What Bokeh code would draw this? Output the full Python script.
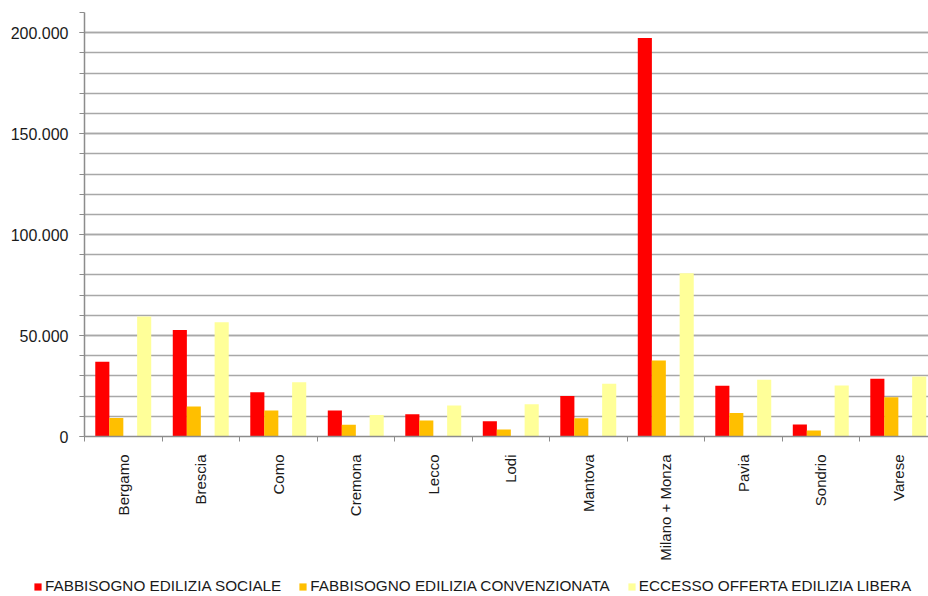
import math
from bokeh.plotting import figure
from bokeh.layouts import column, row
from bokeh.models import FixedTicker, Range1d, Legend, LegendItem
from bokeh.embed import file_html
from bokeh.resources import INLINE

provinces = ["Bergamo", "Brescia", "Como", "Cremona", "Lecco", "Lodi", "Mantova",
             "Milano + Monza", "Pavia", "Sondrio", "Varese"]
sociale = [37000, 52800, 21900, 12900, 11000, 7600, 20100, 197400, 25100, 5900, 28600]
convenzionata = [9200, 14900, 12900, 5800, 7900, 3500, 9100, 37600, 11600, 3000, 19500]
libera = [59400, 56600, 26900, 10700, 15300, 16000, 26100, 80900, 28100, 25200, 29700]
series_names = ["FABBISOGNO EDILIZIA SOCIALE", "FABBISOGNO EDILIZIA CONVENZIONATA",
                "ECCESSO OFFERTA EDILIZIA LIBERA"]
series_colors = ["#FF0000", "#FFBF00", "#FFFF99"]
y_ticks = [0, 50000, 100000, 150000, 200000]
y_tick_labels = ["0", "50.000", "100.000", "150.000", "200.000"]
y_minor = list(range(0, 210001, 10000))

FONT = "Liberation Sans"
idx = list(range(len(provinces)))

p = figure(width=928, height=572, output_backend="svg", toolbar_location=None,
           x_range=Range1d(-0.5, 10.39), y_range=Range1d(0, 210000),
           min_border_left=84, min_border_right=0, min_border_top=12,
           min_border_bottom=136)
p.outline_line_color = None
p.background_fill_color = "white"
p.border_fill_color = "white"

offsets = [-0.27, -0.09, 0.27]
for vals, off, col in zip([sociale, convenzionata, libera], offsets, series_colors):
    p.vbar(x=[i + off for i in idx], top=vals, width=0.182, bottom=0,
           fill_color=col, line_color=None)

# x axis
p.xaxis.ticker = FixedTicker(ticks=idx, minor_ticks=[i - 0.5 for i in range(len(provinces) + 1)])
p.xaxis.major_label_overrides = {i: n for i, n in zip(idx, provinces)}
p.xaxis.major_label_orientation = math.pi / 2
p.xaxis.major_tick_out = 0
p.xaxis.major_tick_in = 0
p.xaxis.minor_tick_out = 5
p.xaxis.minor_tick_in = 0
p.xaxis.major_label_standoff = 13
p.xaxis.axis_line_color = "#8c8c8c"
p.xaxis.axis_line_width = 1.5
p.xaxis.minor_tick_line_color = "#8c8c8c"
p.xaxis.major_label_text_font = FONT
p.xaxis.major_label_text_font_size = "15px"
p.xaxis.major_label_text_color = "#1a1a1a"

# y axis
p.yaxis.ticker = FixedTicker(ticks=y_ticks, minor_ticks=y_minor)
p.yaxis.major_label_overrides = {t: l for t, l in zip(y_ticks, y_tick_labels)}
p.yaxis.major_tick_out = 5
p.yaxis.major_tick_in = 0
p.yaxis.minor_tick_out = 5
p.yaxis.minor_tick_in = 0
p.yaxis.major_label_standoff = 11
p.yaxis.axis_line_color = "#8c8c8c"
p.yaxis.axis_line_width = 1.5
p.yaxis.major_tick_line_color = "#8c8c8c"
p.yaxis.minor_tick_line_color = "#8c8c8c"
p.yaxis.major_label_text_font = FONT
p.yaxis.major_label_text_font_size = "16px"
p.yaxis.major_label_text_color = "#1a1a1a"

p.xgrid.grid_line_color = None
p.ygrid.grid_line_color = "#a8a8a8"
p.ygrid.grid_line_width = 1.5
p.ygrid.minor_grid_line_color = "#a8a8a8"
p.ygrid.minor_grid_line_width = 1.5

# legend strip
lf = figure(width=928, height=24, output_backend="svg", toolbar_location=None,
            x_range=Range1d(0, 1), y_range=Range1d(0, 1),
            x_axis_location=None, y_axis_location=None,
            min_border=0, min_border_left=0, min_border_right=0,
            min_border_top=0, min_border_bottom=0)
lf.outline_line_color = None
lf.xgrid.visible = False
lf.ygrid.visible = False
leg_renderers = [lf.vbar(x=[0.5], top=[0], bottom=[0], width=0.01, fill_color=c, line_color=None)
                 for c in series_colors]
items = [LegendItem(label=n, renderers=[r]) for n, r in zip(series_names, leg_renderers)]
legend = Legend(items=items, orientation="horizontal", location=(33, 0),
                glyph_width=9, glyph_height=9, label_standoff=3, spacing=17,
                padding=0, margin=0, border_line_color=None,
                background_fill_alpha=0, label_text_font=FONT,
                label_text_font_size="15.3px", label_text_color="#1a1a1a",
                label_height=20)
lf.add_layout(legend, "center")

layout = column(p, row(lf), spacing=0)
open("out.html", "w").write(file_html(layout, INLINE))
